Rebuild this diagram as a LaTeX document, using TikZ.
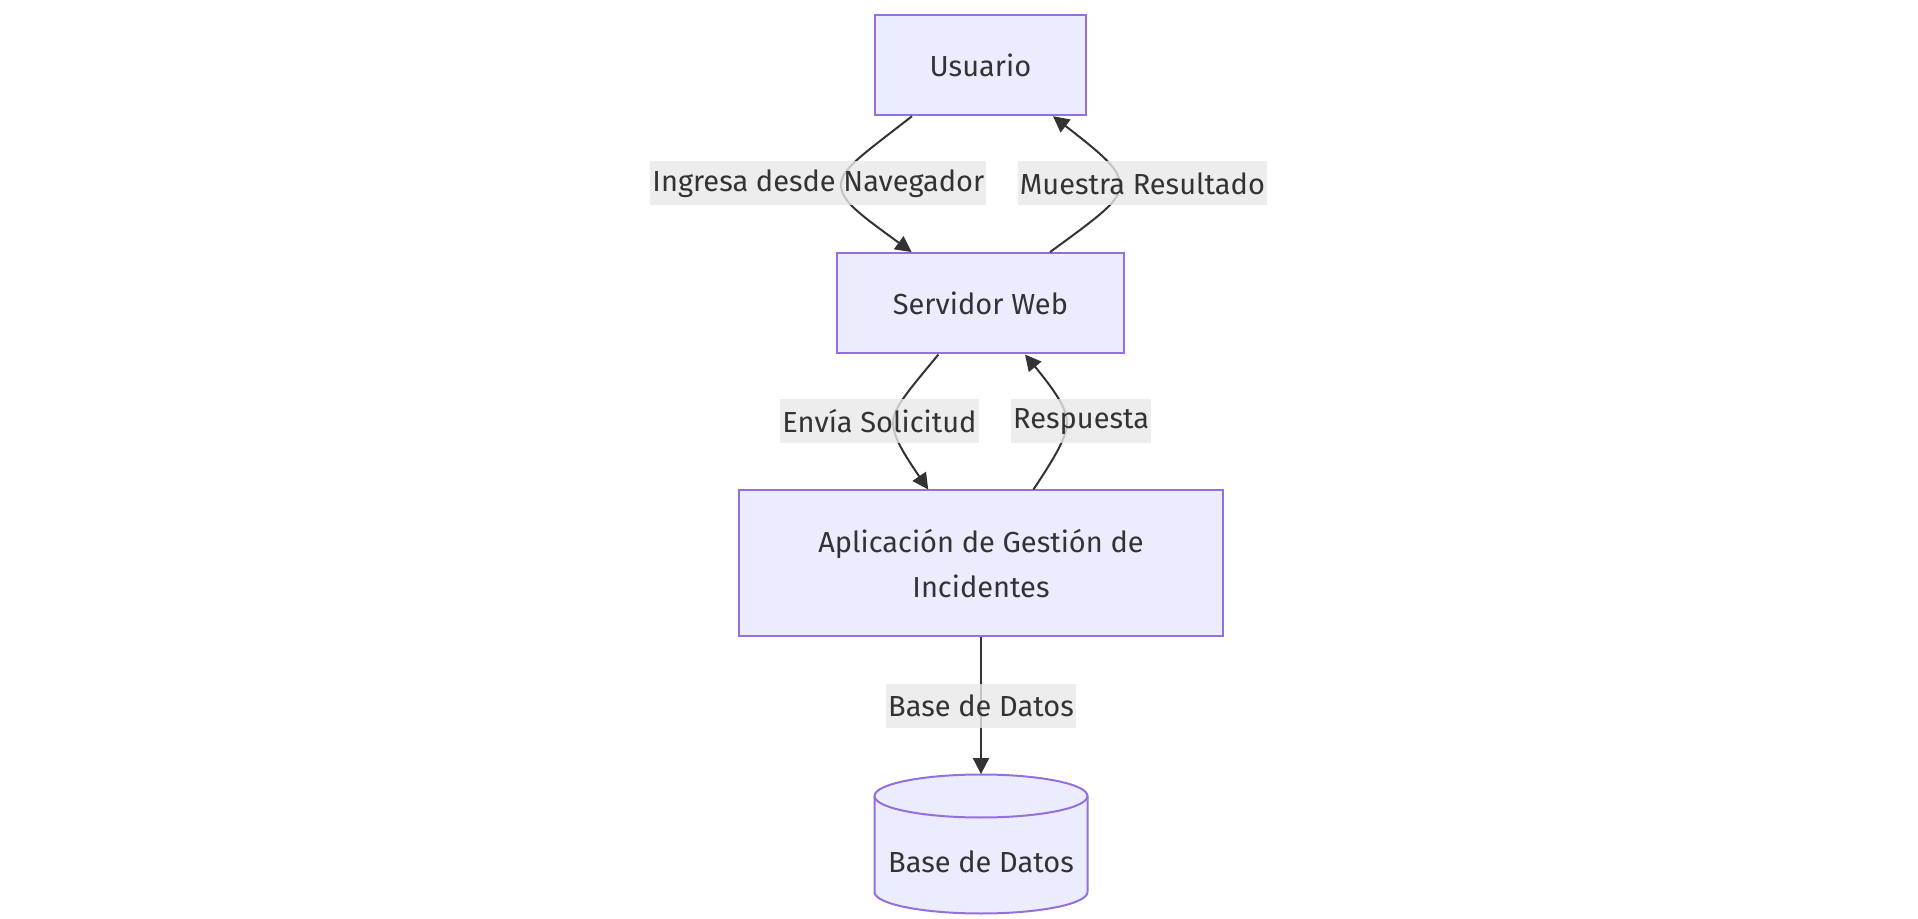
\documentclass[tikz,border=0pt]{standalone}
\usepackage{fontspec}
\setmainfont{Fira Sans}
\usetikzlibrary{arrows.meta}

\definecolor{boxfill}{HTML}{ECECFF}
\definecolor{boxline}{HTML}{9370DB}
\definecolor{inkgray}{HTML}{333333}
\definecolor{lblgray}{HTML}{E8E8E8}

\newcommand{\flowfont}{\fontsize{14.5}{22.5}\selectfont}

\begin{document}
\begin{tikzpicture}[x = 0.5pt, y = -0.5pt,
    box/.style = {draw = boxline, fill = boxfill, line width = 1pt,
        text = inkgray, font = \flowfont, align = center, inner sep = 0pt},
    dbarea/.style = {inner sep = 0pt, minimum width = 106.5pt, minimum height = 69.5pt},
    dbline/.style = {draw = boxline, fill = boxfill, line width = 1pt},
    txt/.style = {text = inkgray, font = \flowfont},
    lbl/.style = {fill = lblgray, fill opacity = 0.8, text opacity = 1, text = inkgray,
        font = \flowfont, inner xsep = 1pt, inner ysep = 0pt, minimum height = 22pt},
    flow/.style = {draw = inkgray, line width = 1pt,
        -{Triangle[length = 8pt, width = 8pt]}}]

% We fix the page to the size of the reference picture.
    \useasboundingbox (0, 0) rectangle (1918, 919);

% The boxes of the flow, from top to bottom.
    \node [box, minimum width = 105.8pt, minimum height = 50.2pt] (usuario) at (980.4, 65) {Usuario};
    \node [box, minimum width = 143.6pt, minimum height = 50.2pt] (servidor) at (980.4, 303.3) {Servidor Web};
    \node [box, minimum width = 242.2pt, minimum height = 72.8pt] (app) at (981, 563.3)
        {Aplicación de Gestión de\\Incidentes};

% The data base is a cylinder, drawn by hand round an empty node.
    \node [dbarea] (db) at (981, 844) {};
    \filldraw [dbline] (874.5, 796) -- (874.5, 892)
        arc [start angle = 180, end angle = 0, x radius = 106.5, y radius = 21.5]
        -- (1087.5, 796)
        arc [start angle = 0, end angle = -180, x radius = 106.5, y radius = 21.5] -- cycle;
    \draw [dbline, fill = none] (874.5, 796)
        arc [start angle = 180, end angle = 0, x radius = 106.5, y radius = 21.5];
    \node [txt] (dbtext) at (981, 862) {Base de Datos};

% The curves run nearly straight and only bend at their labels.
    \coordinate (ingresamid) at (841, 185);
    \coordinate (muestramid) at (1120, 185);
    \coordinate (enviamid) at (893, 422);
    \coordinate (respuestamid) at (1067, 422);

    \draw [flow] ([xshift = -34.2pt] usuario.south)
        .. controls +(-50, 39) and +(0, -16) .. (ingresamid)
        .. controls +(0, 16) and +(-52, -38) .. ([xshift = -34.4pt] servidor.north);
    \draw [flow] ([xshift = 34.8pt] servidor.north)
        .. controls +(52, -38) and +(0, 16) .. (muestramid)
        .. controls +(0, -16) and +(50, 39) .. ([xshift = 36.3pt] usuario.south);
    \draw [flow] ([xshift = -21pt] servidor.south)
        .. controls +(-28, 34) and +(0, -14) .. (enviamid)
        .. controls +(0, 14) and +(-26, -38) .. ([xshift = -26.4pt] app.north);
    \draw [flow] ([xshift = 26.2pt] app.north)
        .. controls +(24, -36) and +(0, 14) .. (respuestamid)
        .. controls +(0, -14) and +(28, 34) .. ([xshift = 22.3pt] servidor.south);
    \draw [flow] (app) -- (db);

% The labels sit on the curves.
    \node [lbl] (ingresa) at (818.4, 183.5) {Ingresa desde Navegador};
    \node [lbl] (muestra) at (1142.4, 183.5) {Muestra Resultado};
    \node [lbl] (envia) at (879.5, 421.4) {Envía Solicitud};
    \node [lbl] (respuesta) at (1081.2, 421.4) {Respuesta};
    \node [lbl] (base) at (981, 705.8) {Base de Datos};

\end{tikzpicture}
\end{document}
